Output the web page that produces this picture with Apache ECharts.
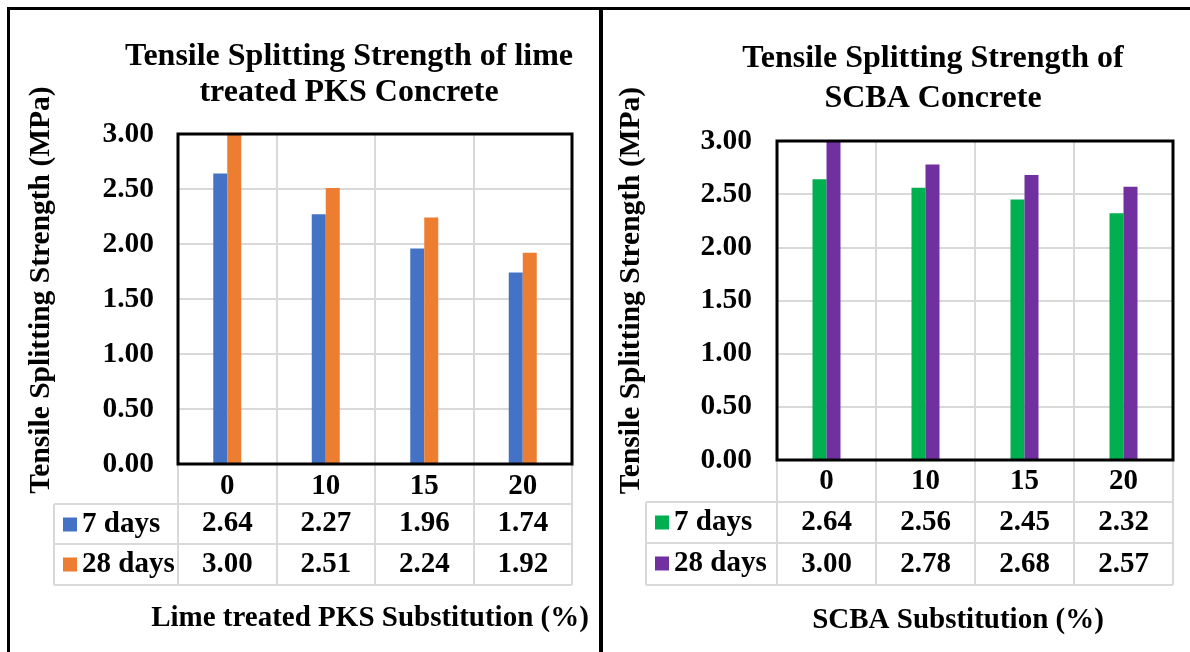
<!DOCTYPE html>
<html>
<head>
<meta charset="utf-8">
<script src="https://cdn.jsdelivr.net/npm/echarts@6/dist/echarts.min.js"></script>
<style>
  html, body { margin: 0; padding: 0; background: #fff; }
  #page { position: relative; width: 1190px; height: 652px; overflow: hidden; }
  #chart-pks { position: absolute; left: 0; top: 0; width: 600px; height: 652px; }
  #chart-scba { position: absolute; left: 600px; top: 0; width: 590px; height: 652px; }
  .frame { position: absolute; background: #000; }
</style>
</head>
<body>
<div id="page">
  <div id="chart-pks"></div>
  <div id="chart-scba"></div>
  <div class="frame" style="left:7px;top:7px;width:1183px;height:3px"></div>
  <div class="frame" style="left:7px;top:7px;width:3px;height:645px"></div>
  <div class="frame" style="left:599px;top:7px;width:4px;height:645px"></div>
</div>
<script>
const categories = ['0', '10', '15', '20']
const seriesNames = ['7 days', '28 days']
// lime treated PKS
const pks7 = [2.64, 2.27, 1.96, 1.74]
const pks28 = [3.00, 2.51, 2.24, 1.92]
// SCBA
const scba7 = [2.64, 2.56, 2.45, 2.32]
const scba28 = [3.00, 2.78, 2.68, 2.57]

const FONT = "'Liberation Serif', 'Times New Roman', serif"
const GRID_LINE = '#d9d9d9'
const TXT = 29

const makeChart = (id, cfg) => {
  const myChart = echarts.init(document.getElementById(id))
  const g = cfg.grid
  const bottomY = g.top + g.height
  const rightX = g.left + g.width
  const tableLine = (x1, y1, x2, y2) => ({
    type: 'line',
    shape: { x1, y1, x2, y2 },
    style: { stroke: GRID_LINE, lineWidth: 2 },
    silent: true,
  })
  const rowAxis = (values, offset) => ({
    type: 'category',
    position: 'bottom',
    offset,
    data: categories,
    axisLine: { show: false },
    axisTick: { show: false },
    splitLine: { show: false },
    axisLabel: {
      margin: cfg.labelMargin,
      fontFamily: FONT,
      fontWeight: 'bold',
      fontSize: TXT,
      color: '#000',
      formatter: (v, i) => values[i].toFixed(2),
    },
  })
  const option = {
    animation: false,
    color: cfg.colors,
    title: {
      text: cfg.title,
      left: cfg.titleX,
      top: cfg.titleTop,
      textAlign: 'center',
      padding: 0,
      textStyle: {
        fontFamily: FONT,
        fontWeight: 'bold',
        fontSize: 32,
        lineHeight: cfg.titleLineHeight,
        color: '#000',
      },
    },
    legend: {
      orient: 'vertical',
      left: cfg.legendLeft,
      top: cfg.legendTop,
      padding: 0,
      itemGap: cfg.legendGap,
      itemWidth: 14,
      itemHeight: 14,
      icon: 'rect',
      data: seriesNames,
      textStyle: { fontFamily: FONT, fontWeight: 'bold', fontSize: TXT, color: '#000' },
    },
    grid: {
      left: g.left,
      top: g.top,
      width: g.width,
      height: g.height,
    },
    xAxis: [
      {
        type: 'category',
        data: categories,
        name: cfg.xName,
        nameLocation: 'middle',
        nameGap: cfg.xNameGap,
        nameTextStyle: {
          fontFamily: FONT,
          fontWeight: 'bold',
          fontSize: TXT,
          color: '#000',
          padding: cfg.xNamePadding,
        },
        axisLine: { show: false },
        axisTick: {
          show: true,
          interval: 0,
          length: cfg.tableBottom - bottomY,
          lineStyle: { color: GRID_LINE, width: 2 },
        },
        splitLine: { show: true, interval: 0, lineStyle: { color: GRID_LINE, width: 2 } },
        axisLabel: {
          margin: cfg.labelMargin,
          fontFamily: FONT,
          fontWeight: 'bold',
          fontSize: TXT,
          color: '#000',
        },
      },
      rowAxis(cfg.data[0], cfg.rowOffsets[0]),
      rowAxis(cfg.data[1], cfg.rowOffsets[1]),
    ],
    yAxis: {
      type: 'value',
      min: 0,
      max: 3,
      interval: 0.5,
      name: 'Tensile Splitting Strength (MPa)',
      nameLocation: 'middle',
      nameGap: cfg.yNameGap,
      nameTextStyle: {
        fontFamily: FONT,
        fontWeight: 'bold',
        fontSize: 29.5,
        color: '#000',
        padding: cfg.yNamePadding,
      },
      axisLine: { show: false },
      axisTick: { show: false },
      splitLine: { lineStyle: { color: GRID_LINE, width: 2 } },
      axisLabel: {
        margin: cfg.yLabelMargin,
        fontFamily: FONT,
        fontWeight: 'bold',
        fontSize: 29.5,
        color: '#000',
        formatter: (v) => v.toFixed(2),
      },
    },
    series: seriesNames.map((name, i) => ({
      name,
      type: 'bar',
      data: cfg.data[i],
      barWidth: 14,
      barGap: '0%',
    })),
    graphic: [
      tableLine(cfg.tableLeft, cfg.rowLines[0], rightX, cfg.rowLines[0]),
      tableLine(cfg.tableLeft, cfg.rowLines[1], rightX, cfg.rowLines[1]),
      tableLine(cfg.tableLeft, cfg.tableBottom, rightX, cfg.tableBottom),
      tableLine(cfg.tableLeft, cfg.rowLines[0], cfg.tableLeft, cfg.tableBottom),
      // plot frame drawn on top of the split lines
      {
        type: 'rect',
        shape: { x: g.left, y: g.top, width: g.width, height: g.height },
        style: { fill: null, stroke: '#000', lineWidth: 3 },
        z: 100,
        silent: true,
      },
    ],
  }
  myChart.setOption(option)
  return myChart
}

makeChart('chart-pks', {
  title: 'Tensile Splitting Strength of lime\ntreated PKS Concrete',
  titleX: 349,
  titleTop: 39,
  titleLineHeight: 36,
  colors: ['#4472C4', '#ED7D31'],
  data: [pks7, pks28],
  grid: { left: 178, top: 134, width: 394, height: 330 },
  labelMargin: 8,
  rowOffsets: [37, 78],
  rowLines: [504, 544],
  tableBottom: 585,
  tableLeft: 54,
  legendLeft: 63,
  legendTop: 510,
  legendGap: 11,
  yNameGap: 122,
  yNamePadding: [0, 0, 0, 18],
  yLabelMargin: 24,
  xName: 'Lime treated PKS Substitution (%)',
  xNameGap: 140,
  xNamePadding: [0, 10, 0, 0],
})

makeChart('chart-scba', {
  title: 'Tensile Splitting Strength of\nSCBA Concrete',
  titleX: 333,
  titleTop: 39,
  titleLineHeight: 40,
  colors: ['#00B050', '#7030A0'],
  data: [scba7, scba28],
  grid: { left: 177, top: 141, width: 396, height: 319 },
  labelMargin: 7,
  rowOffsets: [41, 83],
  rowLines: [502, 543],
  tableBottom: 585,
  tableLeft: 46,
  legendLeft: 55,
  legendTop: 508,
  legendGap: 12,
  yNameGap: 131,
  yNamePadding: [0, 0, 0, 20],
  yLabelMargin: 25,
  xName: 'SCBA Substitution (%)',
  xNameGap: 146,
  xNamePadding: [0, 34, 0, 0],
})
</script>
</body>
</html>
